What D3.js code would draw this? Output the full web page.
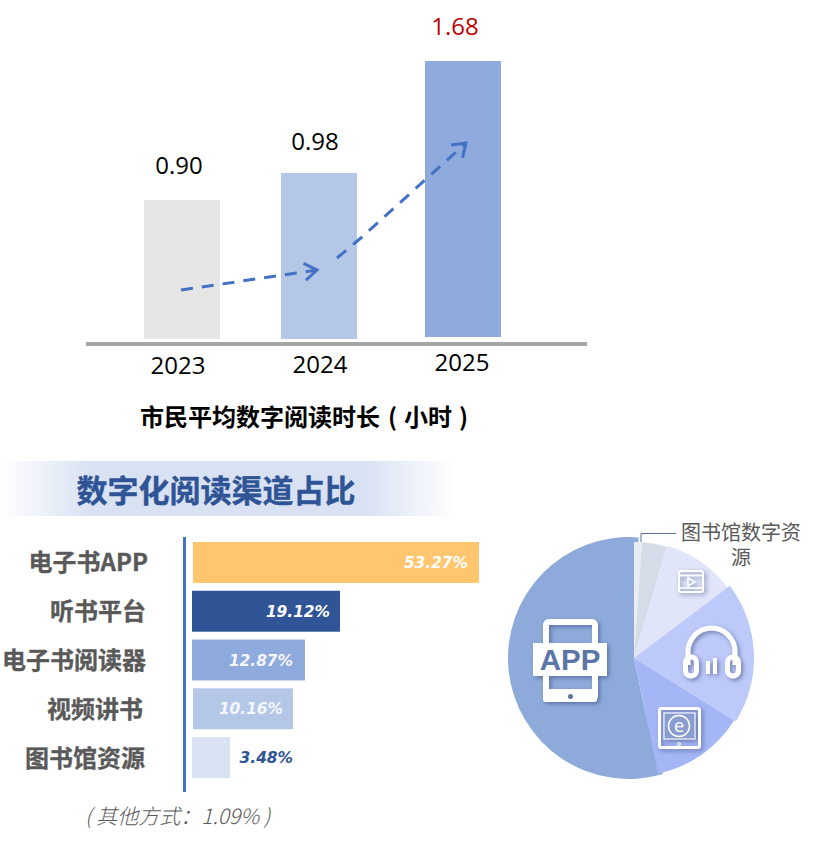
<!DOCTYPE html>
<html><head><meta charset="utf-8">
<script src="https://cdn.jsdelivr.net/npm/d3@7/dist/d3.min.js"></script>
<style>html,body{margin:0;padding:0;background:#fff}svg{display:block}</style>
</head><body><svg id="c" width="828" height="849"></svg>
<script>
// ---- data ----
const years = ["2023","2024","2025"];
const hours = [0.90,0.98,1.68];
const hourLabels = ["0.90","0.98","1.68"];
const channels = ["电子书APP","听书平台","电子书阅读器","视频讲书","图书馆资源"];
const shares = [53.27,19.12,12.87,10.16,3.48];
const otherShare = 1.09;
const pieNames = ["其他方式","图书馆资源","视频讲书","听书平台","电子书阅读器","电子书APP"];
const pieValues = [1.09,3.48,10.16,19.12,12.87,53.27];
// ---- styles ----
const yearColors = ["#e6e6e6","#b4c7e7","#8faadc"];
const barColors = ["#ffc56f","#2f5597","#8faadc","#b4c7e7","#dae3f3"];
const pieColors = ["#e9ecf1","#d5dce7","#e0e5fa","#bdc9f9","#a5b6f6","#8daadb"];
const CJK = "'Noto Sans CJK SC','Noto Sans',sans-serif";
const svg = d3.select("#c");
const defs = svg.append("defs");

// top chart
const xTop = d3.scaleOrdinal(years,[182,319,463]);
const yTop = d3.scaleLinear().domain([0,0.9,0.98,1.68]).range([339,200,173,61]);
const topG = svg.append("g");
topG.selectAll("rect").data(years).join("rect")
  .attr("x",d=>xTop(d)-38).attr("width",76)
  .attr("y",(d,i)=>yTop(hours[i]))
  .attr("height",(d,i)=>yTop(0)-yTop(hours[i])-(i==2?2:0))
  .attr("fill",(d,i)=>yearColors[i]);
topG.append("line").attr("x1",86).attr("x2",587).attr("y1",344).attr("y2",344)
  .attr("stroke","#a6a6a6").attr("stroke-width",4);
const numFont = "'Open Sans','Noto Sans',sans-serif";
const labelDx=[-3,-4,-8], labelDy=[-26,-23,-26], yearDx=[-4,1,-1], yearBase=[374,373,371];
topG.selectAll("text.v").data(hourLabels).join("text").attr("class","v")
  .attr("x",(d,i)=>xTop(years[i])+labelDx[i]).attr("y",(d,i)=>yTop(hours[i])+labelDy[i])
  .attr("text-anchor","middle").attr("font-family",numFont).attr("font-size",24)
  .attr("fill",(d,i)=>i==2?"#c00000":"#000").text(d=>d);
topG.selectAll("text.y").data(years).join("text").attr("class","y")
  .attr("x",(d,i)=>xTop(d)+yearDx[i]).attr("y",(d,i)=>yearBase[i])
  .attr("text-anchor","middle").attr("font-family",numFont).attr("font-size",24)
  .attr("fill","#000").text(d=>d);
const tt=topG.append("text").attr("y",426).attr("font-family",CJK).attr("font-weight",700).attr("font-size",24).attr("fill","#000");
tt.append("tspan").attr("x",140).text("市民平均数字阅读时长");
tt.append("tspan").attr("x",388).text("(");
tt.append("tspan").attr("x",404).text("小时");
tt.append("tspan").attr("x",459).text(")");

// arrows
const arrowColor="#4472c4";
const arrows=[[[181,290],[317,270]],[[337,258],[362,237],[466,143]]];
const line=d3.line();
arrows.forEach(a=>{
  svg.append("path").attr("d",line(a)).attr("fill","none").attr("stroke",arrowColor)
    .attr("stroke-width",3).attr("stroke-dasharray","12 9");
  const e=a[a.length-1],p=a[a.length-2],t=Math.atan2(e[1]-p[1],e[0]-p[0]),L=15;
  const h=[[e[0]-L*Math.cos(t-0.6),e[1]-L*Math.sin(t-0.6)],e,[e[0]-L*Math.cos(t+0.6),e[1]-L*Math.sin(t+0.6)]];
  svg.append("path").attr("d",line(h)).attr("fill","none").attr("stroke",arrowColor).attr("stroke-width",3);
});

// title band
const grad=defs.append("linearGradient").attr("id","band");
[[0,0],[0.2,1],[0.8,1],[1,0]].forEach(s=>grad.append("stop").attr("offset",s[0]).attr("stop-color","#d9e2f3").attr("stop-opacity",s[1]));
svg.append("rect").attr("x",0).attr("y",461).attr("width",456).attr("height",55).attr("fill","url(#band)");
svg.append("text").attr("x",216).attr("y",502).attr("text-anchor","middle").attr("font-family",CJK)
  .attr("font-weight",700).attr("font-size",31).attr("fill","#2f5496").attr("stroke","#2f5496").attr("stroke-width",0.4).text("数字化阅读渠道占比");

// channel bars
const xBar=d3.scaleLinear().domain([0,3.48,10.16,12.87,19.12,53.27]).range([192,230,293,305,340,479]);
const yBar=d3.scaleBand().domain(channels).range([542,778]).paddingInner(0.16).paddingOuter(0);
svg.selectAll("rect.b").data(channels).join("rect").attr("class","b")
  .attr("x",(d,i)=>xBar(0)+(i==0||i==3?1:0)).attr("y",d=>yBar(d)).attr("height",yBar.bandwidth())
  .attr("width",(d,i)=>xBar(shares[i])-xBar(0)-(i==0||i==3?1:0)).attr("fill",(d,i)=>barColors[i]);
svg.append("line").attr("x1",184.5).attr("x2",184.5).attr("y1",537).attr("y2",792)
  .attr("stroke","#4472c4").attr("stroke-width",3);
const nameEnd=[148,146,146,143,145];
svg.selectAll("text.c").data(channels).join("text").attr("class","c")
  .attr("x",(d,i)=>nameEnd[i]).attr("y",d=>yBar(d)+yBar.bandwidth()/2+9).attr("text-anchor","end")
  .attr("font-family",CJK).attr("font-weight",700).attr("font-size",24).attr("fill","#595959").attr("stroke","#595959").attr("stroke-width",0.3).text(d=>d);
const pctEnd=[11,10,12,10,-63];
svg.selectAll("text.p").data(shares).join("text").attr("class","p")
  .attr("x",(d,i)=>xBar(d)-pctEnd[i])
  .attr("y",(d,i)=>yBar(channels[i])+yBar.bandwidth()/2+5.5).attr("text-anchor","end")
  .attr("font-family","'DejaVu Sans',sans-serif").attr("font-weight",700).attr("font-style","italic").attr("font-size",15.4)
  .attr("fill",(d,i)=>i==4?"#2f5496":(i==3||i==2?"#f4f7fc":"#fff")).text(d=>d.toFixed(2)+"%");
svg.append("text").attr("x",85).attr("y",824).attr("font-family",CJK)
  .attr("font-style","italic").attr("font-weight",300).attr("font-size",21).attr("fill","#595959").text("( 其他方式："+otherShare.toFixed(2)+"% )");

// pie
const cx=634,cy=658;
const pie=d3.pie().sort(null).value(d=>d)(pieValues);
const arc=d3.arc().innerRadius(0);
const pg=svg.append("g").attr("transform",`translate(${cx},${cy})`);
const appSlice=pie[5];
pg.append("path").attr("transform","translate(-5,0)")
  .attr("d",arc.outerRadius(121)({startAngle:appSlice.startAngle-0.08,endAngle:appSlice.endAngle+0.08}))
  .attr("fill",pieColors[5]);
pg.append("path").attr("d",arc.outerRadius(116)(appSlice)).attr("fill",pieColors[5]);
pg.selectAll("path.s").data(pie.slice(0,5)).join("path").attr("class","s")
  .attr("d",(d,i)=>arc.outerRadius([116,116,117,120,118][i])(d))
  .attr("fill",(d,i)=>pieColors[i]);

// icons (decorative)
const f=defs.append("filter").attr("id","sh").attr("x","-30%").attr("y","-30%").attr("width","170%").attr("height","170%");
f.append("feDropShadow").attr("dx",2).attr("dy",2).attr("stdDeviation",2).attr("flood-color","#3a4f80").attr("flood-opacity",0.6);
const ic=svg.append("g").attr("filter","url(#sh)");
const W="#fff";
// APP
ic.append("rect").attr("x",546).attr("y",622).attr("width",49).attr("height",77).attr("rx",3).attr("fill","none").attr("stroke",W).attr("stroke-width",6);
ic.append("rect").attr("x",543).attr("y",689).attr("width",54).attr("height",13).attr("rx",3).attr("fill",W);
ic.append("rect").attr("x",533).attr("y",643).attr("width",74).attr("height",33).attr("fill",W);
svg.append("text").attr("x",570).attr("y",670).attr("text-anchor","middle").attr("font-family","'Liberation Sans',sans-serif").attr("font-weight",700).attr("font-size",29.5).attr("fill","#5c75a8").text("APP");
svg.append("circle").attr("cx",570.5).attr("cy",696.5).attr("r",2.5).attr("fill","#5c75a8");
// headphones
ic.append("path").attr("d","M688 665 V652 A23.5 24 0 0 1 735 652 V665").attr("fill","none").attr("stroke",W).attr("stroke-width",5);
ic.append("rect").attr("x",685.5).attr("y",657).attr("width",11).attr("height",19).attr("rx",5.5).attr("fill","none").attr("stroke",W).attr("stroke-width",5);
ic.append("rect").attr("x",727.5).attr("y",657).attr("width",11).attr("height",19).attr("rx",5.5).attr("fill","none").attr("stroke",W).attr("stroke-width",5);
ic.append("rect").attr("x",706).attr("y",661).attr("width",4).attr("height",13).attr("fill",W);
ic.append("rect").attr("x",713).attr("y",658).attr("width",4).attr("height",16).attr("fill",W);
// e-reader
ic.append("rect").attr("x",659.5).attr("y",708.5).attr("width",40).attr("height",39).attr("rx",2).attr("fill","none").attr("stroke",W).attr("stroke-width",3);
ic.append("rect").attr("x",664).attr("y",713).attr("width",31).attr("height",26).attr("fill","#8a9dd0").attr("stroke",W).attr("stroke-width",1);
ic.append("circle").attr("cx",679).attr("cy",726).attr("r",10.5).attr("fill","none").attr("stroke",W).attr("stroke-width",1.5);
svg.append("text").attr("x",679).attr("y",732).attr("text-anchor","middle").attr("font-family",numFont).attr("font-size",18).attr("fill",W).text("e");
svg.append("circle").attr("cx",679).attr("cy",744).attr("r",1.5).attr("fill","none").attr("stroke",W).attr("stroke-width",1);
// video
ic.append("rect").attr("x",679).attr("y",571).attr("width",24).attr("height",21).attr("rx",2).attr("fill","none").attr("stroke",W).attr("stroke-width",2);
ic.append("path").attr("d","M679 575.5 H703 M679 588 H703").attr("stroke",W).attr("stroke-width",1.5);
ic.append("path").attr("d","M688 578 L695 582 L688 586 Z").attr("fill","none").attr("stroke",W).attr("stroke-width",1.5);

// leader + label
svg.append("path").attr("d",line([[641,542],[641,533.5],[676,533.5]])).attr("fill","none").attr("stroke","#5b7299").attr("stroke-width",1);
const lib=svg.append("text").attr("text-anchor","middle").attr("font-family",CJK).attr("font-size",20).attr("fill","#595959");
lib.append("tspan").attr("x",741).attr("y",540).text("图书馆数字资");
lib.append("tspan").attr("x",741).attr("y",565).text("源");
</script></body></html>
